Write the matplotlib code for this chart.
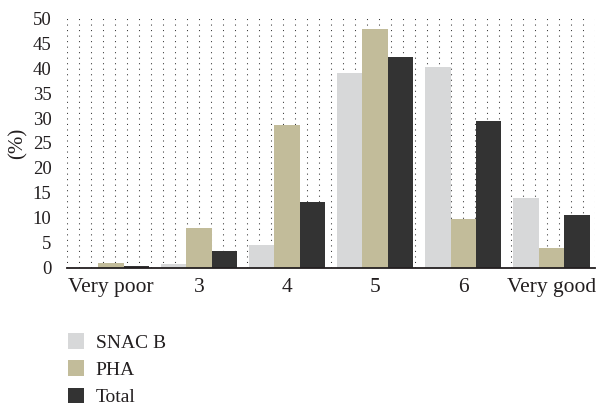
import matplotlib.pyplot as plt
import numpy as np
from matplotlib.patches import Patch

categories = ["Very poor", "3", "4", "5", "6", "Very good"]
snac_b = [0.0, 0.7, 4.5, 39.1, 40.2, 14.0]
pha = [0.9, 7.9, 28.6, 47.8, 9.8, 3.9]
total = [0.4, 3.4, 13.2, 42.2, 29.4, 10.6]
series_names = ["SNAC B", "PHA", "Total"]
colors = ["#d7d8d9", "#c2bc9a", "#333333"]

plt.rcParams["font.family"] = ["Liberation Serif", "DejaVu Serif"]
text_color = "#231f20"

fig = plt.figure(figsize=(5.96, 4.05), dpi=100)
ax = fig.add_axes([0.112, 0.339, 0.887, 0.616])

x = np.arange(len(categories))
w = 0.289

# dotted vertical background lines
grid_x = -0.5 + np.arange(45) * 6 / 44
ax.vlines(grid_x, 0, 50, colors="#333333", linewidth=0.75,
          linestyles=(0, (1, 4.3)), zorder=0)

for i, (vals, c) in enumerate(zip([snac_b, pha, total], colors)):
    ax.bar(x + (i - 1) * w, vals, width=w, color=c, zorder=2)

ax.set_xlim(-0.5, 5.5)
ax.set_ylim(0, 50)
ax.set_yticks(range(0, 51, 5))
ax.set_xticks(x)
ax.set_xticklabels(categories)
ax.tick_params(axis="y", length=0, pad=11, labelsize=13.5, labelcolor=text_color)
ax.tick_params(axis="x", length=0, pad=7.5, labelsize=15.5, labelcolor=text_color)
ax.set_ylabel("(%)", fontsize=15, color=text_color, labelpad=4)

for s in ["top", "right", "left"]:
    ax.spines[s].set_visible(False)
ax.spines["bottom"].set_color(text_color)
ax.spines["bottom"].set_linewidth(1.3)
ax.spines["bottom"].set_zorder(3)

# legend under the plot
handles = [Patch(facecolor=c, edgecolor="none") for c in colors]
fig.legend(handles, series_names, loc="upper left",
           bbox_to_anchor=(0.085, 0.22), bbox_transform=fig.transFigure,
           frameon=False, fontsize=14, handlelength=0.82, handleheight=0.82,
           handletextpad=0.6, labelspacing=0.45, labelcolor=text_color)

fig.savefig("out.png", dpi=100)
